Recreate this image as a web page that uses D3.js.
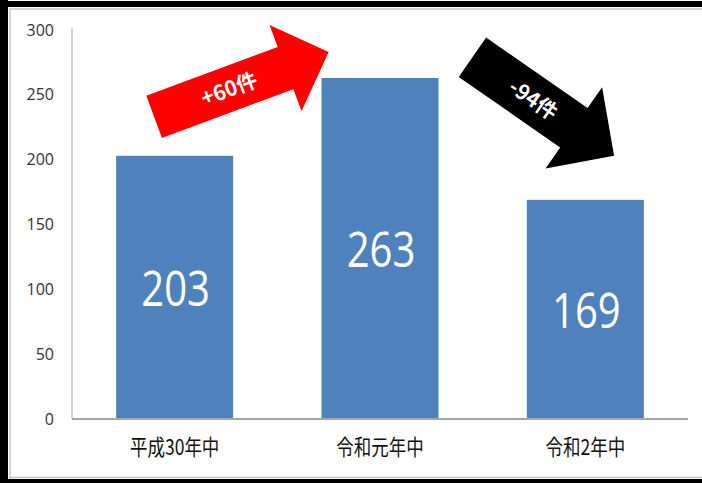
<!DOCTYPE html>
<html>
<head>
<meta charset="utf-8">
<script src="https://cdn.jsdelivr.net/npm/d3@7"></script>
<style>
  body { margin: 0; background: #fff; }
  svg { display: block; }
</style>
</head>
<body>
<svg id="chart" width="702" height="483"></svg>
<script>
const width = 702;
const height = 483;

// data
const categories = ["平成30年中", "令和元年中", "令和2年中"];
const values = [203, 263, 169];
const yTicks = [0, 50, 100, 150, 200, 250, 300];

// change arrows: [category position, value] of tail and tip
const arrowFrom = [[-0.1, 233], [1.45, 279]];
const arrowTo = [[0.75, 283], [2.14, 203]];
const arrowColors = ["#ff0000", "#000000"];

const svg = d3.select("#chart");

const plotLeft = 72, plotRight = 688, plotTop = 30, plotBottom = 419;

// frame around the picture
svg.append("rect").attr("x", 0).attr("y", 0).attr("width", width).attr("height", height).attr("fill", "#fff");
svg.append("path")
    .attr("d", `M10,${height} V9 H${width} M10,477.5 H${width}`)
    .attr("fill", "none").attr("stroke", "#c8c8c8").attr("stroke-width", 1.5);
svg.append("rect").attr("x", 0).attr("y", 1).attr("width", width).attr("height", 6).attr("fill", "#000");
svg.append("rect").attr("x", 0).attr("y", 0).attr("width", 8).attr("height", height).attr("fill", "#000");
svg.append("rect").attr("x", 0).attr("y", 479).attr("width", width).attr("height", 4).attr("fill", "#000");

const x = d3.scaleBand()
    .domain(categories)
    .range([plotLeft, plotRight])
    .paddingInner(0.43)
    .paddingOuter(0.215);

const y = d3.scaleLinear()
    .domain([0, 300])
    .range([plotBottom, plotTop]);

// y axis
const yAxis = svg.append("g")
    .attr("transform", `translate(${plotLeft},0)`)
    .call(d3.axisLeft(y).tickValues(yTicks).tickSize(0).tickPadding(18));
yAxis.select(".domain").attr("stroke", "#b4b4b4").attr("stroke-width", 1.2)
    .attr("d", `M0,28V${plotBottom}`);
yAxis.selectAll("text")
    .style("font-family", "'Open Sans', sans-serif")
    .style("font-size", "16px")
    .attr("fill", "#333");

// bars
svg.selectAll("rect.bar")
    .data(values)
    .enter()
    .append("rect")
    .attr("class", "bar")
    .attr("x", (v, i) => x(categories[i]))
    .attr("y", v => y(v))
    .attr("width", x.bandwidth())
    .attr("height", v => y(0) - y(v))
    .attr("fill", "#4f81bd");

// x axis
const xAxis = svg.append("g")
    .attr("transform", `translate(0,${plotBottom})`)
    .call(d3.axisBottom(x).tickSize(0));
xAxis.select(".domain").attr("stroke", "#a6a6a6").attr("stroke-width", 2)
    .attr("d", `M${plotLeft},0H${plotRight}`);
xAxis.selectAll("text")
    .attr("y", 0)
    .attr("dy", "0.35em")
    .attr("transform", "translate(0,28) scale(1,1.25)")
    .style("font-family", "'Noto Sans CJK JP', sans-serif")
    .style("font-size", "17.5px")
    .attr("fill", "#111");

// value labels inside bars
svg.selectAll("text.value")
    .data(values)
    .enter()
    .append("text")
    .attr("class", "value")
    .attr("transform", (v, i) =>
        `translate(${x(categories[i]) + x.bandwidth() / 2 + 1},${(y(v) + y(0)) / 2 + 1}) scale(1,1.23)`)
    .attr("dy", "0.36em")
    .attr("text-anchor", "middle")
    .style("font-family", "'Open Sans', sans-serif")
    .style("font-size", "40px")
    .attr("fill", "#fff")
    .text(v => v);

// change arrows between bars
const xc = d3.scaleLinear()
    .domain([0, categories.length - 1])
    .range([x(categories[0]) + x.bandwidth() / 2, x(categories[categories.length - 1]) + x.bandwidth() / 2]);

const shaftHalf = [22.5, 24];
const headHalf = [46, 49.5];
const headLen = [46, 49];

arrowFrom.forEach((from, i) => {
    const x0 = xc(from[0]), y0 = y(from[1]);
    const x1 = xc(arrowTo[i][0]), y1 = y(arrowTo[i][1]);
    const len = Math.hypot(x1 - x0, y1 - y0);
    const angle = Math.atan2(y1 - y0, x1 - x0) * 180 / Math.PI;
    const s = shaftHalf[i], h = headHalf[i], hl = headLen[i];
    const pts = [[0, -s], [len - hl, -s], [len - hl, -h], [len, 0], [len - hl, h], [len - hl, s], [0, s]];

    const a = svg.append("g")
        .attr("transform", `translate(${x0},${y0}) rotate(${angle})`);
    a.append("polygon")
        .attr("points", pts.map(p => p.join(",")).join(" "))
        .attr("fill", arrowColors[i]);

    const diff = values[i + 1] - values[i];
    a.append("text")
        .attr("x", len * 0.43)
        .attr("y", 0)
        .attr("dy", "0.36em")
        .attr("text-anchor", "middle")
        .style("font-family", "'Noto Sans CJK JP', sans-serif")
        .style("font-weight", "bold")
        .style("font-size", "21px")
        .attr("fill", "#fff")
        .text((diff > 0 ? "+" : "-") + Math.abs(diff) + "件");
});
</script>
</body>
</html>
